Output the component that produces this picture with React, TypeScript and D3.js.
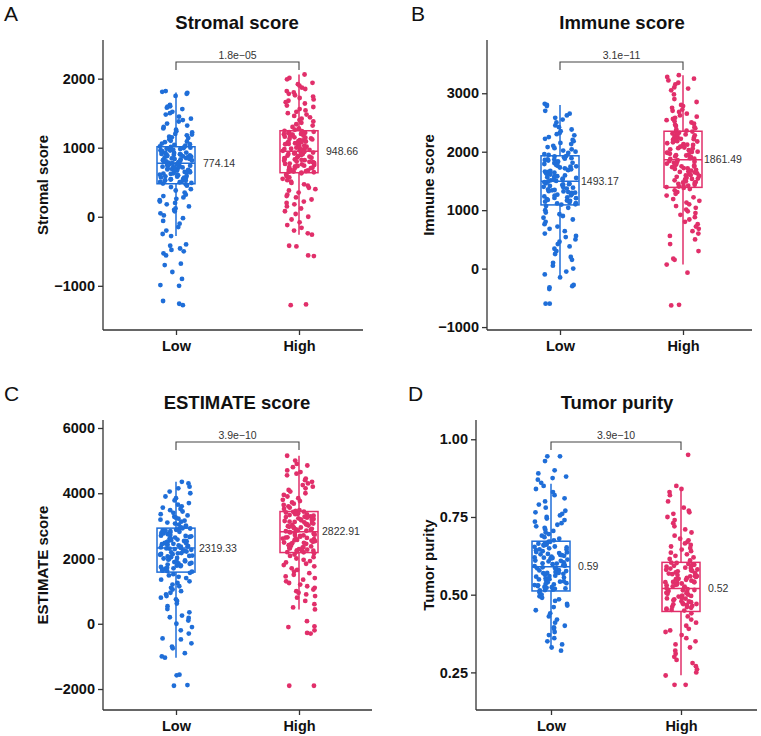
import React, { useEffect, useRef } from "react";
import * as d3 from "d3";

// panel text
const panelLetters = ["A", "B", "C", "D"];
const panelTitles = ["Stromal score", "Immune score", "ESTIMATE score", "Tumor purity"];
const groups = ["Low", "High"];
const groupColors = ["#1f6ed8", "#e12f6a"];
const pValues = ["1.8e-05", "3.1e-11", "3.9e-10", "3.9e-10"];
const medianLabels = [["774.14", "948.66"], ["1493.17", "1861.49"], ["2319.33", "2822.91"], ["0.59", "0.52"]];

// y axes
const yDomains = [[-1640, 2560], [-1050, 3911], [-2643, 6245], [0.129, 1.062]];
const yTicks = [[-1000, 0, 1000, 2000], [-1000, 0, 1000, 2000, 3000], [-2000, 0, 2000, 4000, 6000], [0.25, 0.5, 0.75, 1.0]];

// box stats: [lowerWhisker, q1, median, q3, upperWhisker]
const stromalBox = [[-280, 478, 774.14, 1014, 1800], [-260, 638, 948.66, 1246, 2060]];
const immuneBox = [[-150, 1090, 1493.17, 1930, 2800], [70, 1390, 1861.49, 2350, 3310]];
const estimateBox = [[-1040, 1583, 2319.33, 2931, 4350], [440, 2183, 2822.91, 3440, 5150]];
const purityBox = [[0.327, 0.512, 0.59, 0.672, 0.857], [0.241, 0.446, 0.52, 0.604, 0.842]];

// points (estimated)
const stromalLow = [1820, 1810, 1795, 1780, 1750, 1620, 1600, 1595, 1580, 1560, 1520, 1500, 1480, 1450, 1420, 1400, 1380, 1350, 1320, 1300, 1280, 1260, 1240, 1220, 1200, 1190, 1180, 1160, 1150, 1140, 1120, 1100, 1090, 1080, 1060, 1050, 1040, 1030, 1020,
  1010, 1000, 995, 990, 980, 970, 965, 960, 950, 940, 935, 930, 920, 910, 905, 900, 890, 880, 875, 870, 860, 850, 845, 840, 830, 820, 815, 810, 800, 790, 785, 780,
  770, 760, 755, 750, 740, 730, 720, 715, 710, 700, 690, 680, 670, 660, 650, 640, 630, 620, 610, 600, 590, 580, 570, 560, 550, 540, 530, 520, 510, 500, 490, 480,
  470, 450, 430, 400, 380, 350, 320, 300, 280, 260, 240, 220, 200, 180, 150, 120, 100, 80, 50, 20, -20, -60, -100, -150, -200, -250, -280,
  -400, -420, -460, -480, -500, -530, -560, -680, -700, -800, -900, -990, -1000, -1220, -1260, -1280,
  985, 955, 925, 895, 865, 835, 805, 775, 745, 725, 705, 685, 665, 645, 625, 605, 585, 565, 545, 525, 505, 1012, 888, 762];
const stromalHigh = [2060, 2010, 1990, 1940, 1920, 1900, 1870, 1850, 1820, 1800, 1780, 1760, 1740, 1720, 1700, 1680, 1660, 1640, 1610, 1590, 1560, 1540, 1520, 1500, 1480, 1460, 1440, 1420, 1400, 1380, 1360, 1340, 1320, 1300, 1280, 1260,
  1240, 1230, 1225, 1215, 1200, 1190, 1185, 1175, 1160, 1150, 1145, 1135, 1120, 1110, 1105, 1095, 1080, 1070, 1065, 1055, 1040, 1030, 1025, 1015, 1000, 990, 985, 980, 970, 965, 960, 955,
  945, 935, 925, 915, 905, 895, 885, 870, 860, 850, 840, 830, 820, 810, 800, 790, 780, 770, 760, 750, 740, 730, 720, 710, 700, 690, 680, 670, 660, 650, 645, 640,
  630, 610, 590, 570, 550, 530, 510, 490, 470, 450, 420, 400, 380, 350, 320, 300, 280, 250, 220, 200, 180, 150, 120, 80, 40, 0, -40, -80, -120, -160, -200, -240, -260,
  -420, -430, -560, -570, -1270, -1280,
  1245, 1210, 1170, 1130, 1090, 1050, 1010, 975, 940, 910, 880, 855, 825, 795, 765, 735, 705, 675, 655, 1195, 1085, 930];
const immuneLow = [2820, 2800, 2780, 2700, 2650, 2620, 2580, 2550, 2500, 2450, 2420, 2380, 2350, 2320, 2300, 2280, 2250, 2220, 2200, 2180, 2150, 2130, 2100, 2080, 2060, 2040, 2020, 2000, 1980, 1960, 1945,
  1920, 1905, 1890, 1880, 1865, 1850, 1835, 1820, 1805, 1790, 1775, 1760, 1745, 1730, 1715, 1700, 1685, 1670, 1655, 1640, 1625, 1610, 1595, 1580, 1565, 1550, 1540, 1525, 1510, 1500,
  1490, 1475, 1460, 1455, 1445, 1430, 1415, 1400, 1385, 1370, 1355, 1340, 1325, 1320, 1310, 1295, 1280, 1265, 1250, 1235, 1220, 1205, 1190, 1175, 1160, 1145, 1130, 1115, 1100, 1095,
  1070, 1040, 1000, 960, 930, 900, 870, 840, 800, 760, 720, 680, 640, 600, 560, 540, 500, 460, 420, 380, 340, 300, 250, 200, 150, 100, 50, 0, -50, -100, -150,
  -280, -300, -320, -350, -600, -600,
  1925, 1870, 1810, 1750, 1690, 1630, 1570, 1520, 1480, 1440, 1390, 1345, 1300, 1255, 1210, 1165, 1120, 1575, 1660, 1860];
const immuneHigh = [3310, 3280, 3250, 3220, 3180, 3150, 3100, 3080, 3050, 2980, 2900, 2850, 2800, 2780, 2750, 2720, 2700, 2680, 2650, 2620, 2600, 2580, 2560, 2540, 2520, 2500, 2480, 2460, 2440, 2420, 2400, 2380, 2360,
  2340, 2325, 2310, 2295, 2280, 2265, 2250, 2235, 2220, 2205, 2190, 2175, 2160, 2145, 2130, 2115, 2100, 2085, 2070, 2055, 2040, 2025, 2010, 1995, 1980, 1965, 1950, 1935, 1920, 1905, 1890, 1875,
  1855, 1840, 1825, 1810, 1795, 1780, 1765, 1750, 1735, 1720, 1705, 1690, 1675, 1660, 1645, 1630, 1615, 1600, 1585, 1570, 1555, 1540, 1525, 1510, 1495, 1480, 1465, 1450, 1435, 1420, 1405, 1395,
  1380, 1360, 1340, 1310, 1280, 1250, 1220, 1190, 1160, 1130, 1100, 1070, 1040, 1010, 980, 950, 920, 880, 840, 800, 760, 720, 680, 640, 600, 560, 500, 420, 300, 170, 150, 70,
  -70, -620, -630,
  2345, 2300, 2240, 2180, 2120, 2060, 2000, 1940, 1880, 1830, 1775, 1715, 1655, 1595, 1535, 1475, 1415, 1985, 2215, 1745];
const estimateLow = [4350, 4300, 4200, 4150, 4050, 4000, 3900, 3850, 3780, 3700, 3650, 3600, 3560, 3520, 3480, 3440, 3400, 3360, 3320, 3280, 3250, 3220, 3190, 3160, 3130, 3100, 3070, 3040, 3010, 2980, 2950,
  2920, 2900, 2880, 2860, 2840, 2820, 2800, 2780, 2760, 2740, 2720, 2700, 2680, 2660, 2640, 2620, 2600, 2580, 2560, 2540, 2520, 2500, 2480, 2460, 2440, 2420, 2400, 2380, 2360, 2340, 2325,
  2310, 2290, 2265, 2240, 2215, 2190, 2165, 2140, 2115, 2090, 2065, 2040, 2015, 1990, 1965, 1940, 1915, 1890, 1865, 1840, 1815, 1790, 1765, 1740, 1715, 1690, 1665, 1640, 1615, 1595,
  1560, 1520, 1480, 1440, 1400, 1350, 1300, 1250, 1200, 1150, 1100, 1050, 1000, 950, 900, 850, 800, 750, 700, 620, 540, 450, 350, 250, 200, 180, 100, 0, -100, -200, -300, -450, -480, -600, -700, -750, -900, -1000, -1040,
  -1560, -1580, -1880, -1900,
  2925, 2850, 2770, 2690, 2610, 2530, 2450, 2370, 2300, 2230, 2160, 2080, 2000, 1920, 1850, 1780, 1700, 1630, 2470, 2130];
const estimateHigh = [5150, 5000, 4900, 4850, 4800, 4700, 4650, 4600, 4550, 4450, 4400, 4350, 4300, 4250, 4200, 4150, 4100, 4050, 4000, 3950, 3900, 3850, 3800, 3760, 3720, 3680, 3640, 3600, 3560, 3520, 3480, 3460,
  3430, 3410, 3390, 3370, 3350, 3330, 3310, 3290, 3270, 3250, 3230, 3210, 3190, 3170, 3150, 3130, 3110, 3090, 3070, 3050, 3030, 3010, 2990, 2970, 2950, 2930, 2910, 2890, 2870, 2850, 2835,
  2810, 2790, 2770, 2750, 2730, 2710, 2690, 2670, 2650, 2630, 2610, 2590, 2570, 2550, 2530, 2510, 2490, 2470, 2450, 2430, 2410, 2390, 2370, 2350, 2330, 2310, 2290, 2270, 2250, 2230, 2210, 2195,
  2160, 2120, 2080, 2040, 2000, 1960, 1920, 1880, 1840, 1800, 1760, 1700, 1650, 1600, 1550, 1500, 1450, 1400, 1350, 1300, 1250, 1200, 1150, 1100, 1050, 1000, 950, 900, 850, 800, 700, 600, 500, 440,
  80, -80, -100, -200, -280, -300, -1900, -1900,
  3435, 3360, 3280, 3200, 3120, 3040, 2960, 2880, 2800, 2720, 2640, 2560, 2480, 2400, 2320, 2240, 2190, 2860, 3060, 2620];
const purityLow = [0.945, 0.945, 0.93, 0.90, 0.89, 0.88, 0.875, 0.87,
  0.86, 0.85, 0.84, 0.83, 0.82, 0.81, 0.80, 0.79, 0.78, 0.77, 0.765, 0.76, 0.755, 0.75, 0.745, 0.74, 0.735, 0.73, 0.725, 0.72, 0.715, 0.71, 0.705, 0.70, 0.695, 0.69, 0.685, 0.68, 0.675,
  0.670, 0.667, 0.664, 0.661, 0.66, 0.658, 0.655, 0.652, 0.649, 0.646, 0.643, 0.640, 0.637, 0.634, 0.631, 0.63, 0.628, 0.625, 0.622, 0.619, 0.616, 0.613, 0.610, 0.607, 0.604, 0.601, 0.60, 0.598, 0.595, 0.592,
  0.588, 0.585, 0.582, 0.579, 0.576, 0.573, 0.570, 0.57, 0.567, 0.564, 0.561, 0.558, 0.555, 0.55, 0.552, 0.549, 0.546, 0.543, 0.540, 0.537, 0.534, 0.531, 0.53, 0.528, 0.525, 0.522, 0.52, 0.519, 0.516, 0.514,
  0.508, 0.50, 0.495, 0.49, 0.485, 0.48, 0.47, 0.465, 0.46, 0.45, 0.44, 0.43, 0.42, 0.41, 0.40, 0.395, 0.39, 0.38, 0.37, 0.36, 0.35, 0.34, 0.33, 0.32,
  0.671, 0.663, 0.654, 0.645, 0.636, 0.627, 0.618, 0.609, 0.597, 0.586, 0.578, 0.569, 0.56, 0.551, 0.542, 0.533, 0.524, 0.515, 0.593, 0.62];
const purityHigh = [0.95, 0.85,
  0.84, 0.83, 0.82, 0.80, 0.78, 0.77, 0.765, 0.76, 0.75, 0.74, 0.73, 0.72, 0.71, 0.70, 0.69, 0.68, 0.675, 0.67, 0.665, 0.66, 0.655, 0.65, 0.645, 0.64, 0.635, 0.63, 0.625, 0.62, 0.615, 0.61,
  0.602, 0.599, 0.596, 0.593, 0.590, 0.587, 0.584, 0.581, 0.58, 0.578, 0.575, 0.572, 0.569, 0.566, 0.563, 0.56, 0.560, 0.557, 0.554, 0.551, 0.548, 0.545, 0.542, 0.54, 0.539, 0.536, 0.533, 0.530, 0.527,
  0.521, 0.518, 0.515, 0.512, 0.51, 0.509, 0.506, 0.503, 0.50, 0.497, 0.494, 0.491, 0.49, 0.488, 0.485, 0.482, 0.479, 0.476, 0.473, 0.47, 0.470, 0.467, 0.464, 0.461, 0.458, 0.455, 0.452, 0.449,
  0.44, 0.43, 0.42, 0.41, 0.40, 0.39, 0.385, 0.38, 0.37, 0.36, 0.35, 0.34, 0.33, 0.32, 0.31, 0.30, 0.29, 0.28, 0.27, 0.26, 0.25, 0.24, 0.21, 0.21,
  0.603, 0.595, 0.586, 0.577, 0.568, 0.559, 0.55, 0.541, 0.532, 0.523, 0.514, 0.505, 0.496, 0.487, 0.478, 0.469, 0.46, 0.451, 0.526, 0.54];

const panelPoints = [[stromalLow, stromalHigh], [immuneLow, immuneHigh], [estimateLow, estimateHigh], [purityLow, purityHigh]];
const panelBoxes = [stromalBox, immuneBox, estimateBox, purityBox];

// pixel layout of each panel
const layout = [
  { axisX: 103, top: 40, bottom: 330, right: 363, xLow: 176, xHigh: 299, titleX: 237, letterX: 4, labelDx: 27, yTitleX: 48 },
  { axisX: 487, top: 40, bottom: 330, right: 752, xLow: 560, xHigh: 683, titleX: 622, letterX: 411, labelDx: 21, yTitleX: 434 },
  { axisX: 103, top: 420, bottom: 710, right: 372, xLow: 176, xHigh: 299, titleX: 237, letterX: 4, labelDx: 23, yTitleX: 48 },
  { axisX: 476, top: 420, bottom: 710, right: 757, xLow: 551, xHigh: 681, titleX: 617, letterX: 408, labelDx: 27, yTitleX: 434 },
];

const FONT = "'Liberation Sans', Arial, Helvetica, sans-serif";

// deterministic jitter offset in [-1, 1]
function jitter(i: number, g: number) {
  const s = Math.sin(i * 91.7 + g * 17.31 + 5.3) * 43758.5453;
  return (s - Math.floor(s)) * 2 - 1;
}

export default function App() {
  const ref = useRef<SVGSVGElement>(null);

  useEffect(() => {
    const svg = d3.select(ref.current);
    svg.selectAll("*").remove();

    layout.forEach((L, p) => {
      const g = svg.append("g");
      const y = d3.scaleLinear().domain(yDomains[p]).range([L.bottom, L.top]);
      const x = d3.scalePoint<string>().domain(groups).range([L.xLow, L.xHigh]);
      const fmt = p === 3 ? d3.format(".2f") : d3.format("d");

      // panel letter and title
      g.append("text").attr("x", L.letterX).attr("y", L.top - 19)
        .attr("font-family", FONT).attr("font-size", 21).attr("fill", "#111")
        .text(panelLetters[p]);
      g.append("text").attr("x", L.titleX).attr("y", L.top - 11)
        .attr("text-anchor", "middle").attr("font-family", FONT)
        .attr("font-size", 18.5).attr("font-weight", "bold").attr("fill", "#111")
        .text(panelTitles[p]);

      // axes
      const yAxis = d3.axisLeft(y).tickValues(yTicks[p]).tickFormat(fmt as any).tickSize(5).tickPadding(3);
      const ya = g.append("g").attr("transform", `translate(${L.axisX},0)`).call(yAxis);
      ya.select(".domain").attr("d", `M0,${L.top}V${L.bottom}`);
      const xAxis = d3.axisBottom(x).tickSize(5).tickPadding(6);
      const xa = g.append("g").attr("transform", `translate(0,${L.bottom})`).call(xAxis);
      xa.select(".domain").attr("d", `M${L.axisX},0H${L.right}`);
      [ya, xa].forEach((a) => {
        a.select(".domain").attr("stroke", "#333").attr("stroke-width", 1.3);
        a.selectAll(".tick line").attr("stroke", "#333").attr("stroke-width", 1.3);
        a.selectAll(".tick text").attr("fill", "#111").attr("font-family", FONT).attr("font-weight", "bold");
      });
      ya.selectAll(".tick text").attr("font-size", 14.5);
      xa.selectAll(".tick text").attr("font-size", 14.5);

      // y title
      g.append("text")
        .attr("transform", `translate(${L.yTitleX},${(L.top + L.bottom) / 2}) rotate(-90)`)
        .attr("text-anchor", "middle").attr("font-family", FONT)
        .attr("font-size", 15).attr("font-weight", "bold").attr("fill", "#111")
        .text(panelTitles[p]);

      // boxes, then jittered points on top
      const half = 19;
      groups.forEach((grp, gi) => {
        const [lo, q1, med, q3, hi] = panelBoxes[p][gi];
        const cx = x(grp)!;
        const col = groupColors[gi];
        const bg = g.append("g").attr("stroke", col).attr("fill", "none").attr("stroke-width", 1.5);
        bg.append("line").attr("x1", cx).attr("x2", cx).attr("y1", y(hi)).attr("y2", y(q3));
        bg.append("line").attr("x1", cx).attr("x2", cx).attr("y1", y(q1)).attr("y2", y(lo));
        bg.append("rect").attr("x", cx - half).attr("width", half * 2)
          .attr("y", y(q3)).attr("height", y(q1) - y(q3));
        bg.append("line").attr("x1", cx - half).attr("x2", cx + half).attr("y1", y(med)).attr("y2", y(med));

        g.append("g").selectAll("circle")
          .data(panelPoints[p][gi])
          .join("circle")
          .attr("cx", (d, i) => cx + jitter(i, gi + p * 2) * 16.5)
          .attr("cy", (d) => y(d))
          .attr("r", 2.4)
          .attr("fill", col);

        g.append("text").attr("x", cx + L.labelDx).attr("y", y(med)).attr("dy", "0.35em")
          .attr("font-family", FONT).attr("font-size", 10.5).attr("fill", "#333")
          .text(medianLabels[p][gi]);
      });

      // significance bracket
      const by = L.top + 22;
      g.append("path")
        .attr("d", `M${L.xLow},${by + 8}V${by}H${L.xHigh}V${by + 8}`)
        .attr("fill", "none").attr("stroke", "#444").attr("stroke-width", 1.1);
      g.append("text").attr("x", (L.xLow + L.xHigh) / 2).attr("y", by - 3)
        .attr("text-anchor", "middle").attr("font-family", FONT)
        .attr("font-size", 10.5).attr("fill", "#333")
        .text(pValues[p].replace("-", "\u2212"));
    });
  }, []);

  return (
    <svg ref={ref} width={761} height={736}
      style={{ position: "absolute", left: 0, top: 0, background: "#fff" }} />
  );
}
